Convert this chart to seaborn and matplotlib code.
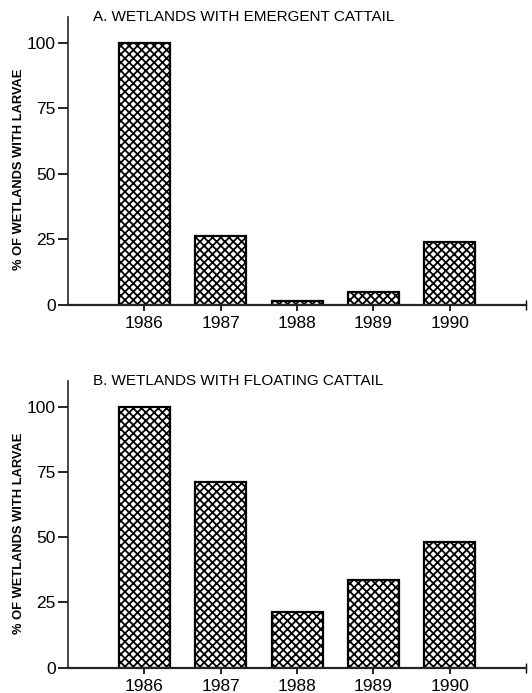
import pandas as pd
import seaborn as sns
import matplotlib.pyplot as plt

years = ["1986", "1987", "1988", "1989", "1990"]
emergent_pct = [100, 26.3, 1.5, 4.8, 24.2]
floating_pct = [100, 71, 21.2, 33.6, 48.3]
panel_titles = ["A. WETLANDS WITH EMERGENT CATTAIL", "B. WETLANDS WITH FLOATING CATTAIL"]
y_ticks = [0, 25, 50, 75, 100]

sns.set_style("ticks")
plt.rcParams["font.family"] = ["Liberation Sans", "DejaVu Sans"]
plt.rcParams["hatch.linewidth"] = 1.3
plt.rcParams["text.color"] = "black"
plt.rcParams["axes.labelcolor"] = "black"
plt.rcParams["xtick.color"] = "black"
plt.rcParams["ytick.color"] = "black"

fig = plt.figure(figsize=(5.32, 6.93), dpi=100)
ax_a = fig.add_axes([0.128, 0.5599, 0.861, 0.4159])
ax_b = fig.add_axes([0.128, 0.0365, 0.861, 0.4141])

for ax, vals, title in zip([ax_a, ax_b], [emergent_pct, floating_pct], panel_titles):
    df = pd.DataFrame({"year": years, "pct": vals})
    sns.barplot(data=df, x="year", y="pct", order=years, color="white",
                edgecolor="black", linewidth=1.6, width=0.67, ax=ax)
    for p in ax.patches:
        p.set_hatch("xxxx")
        p.set_facecolor("white")
    ax.set_xlim(-1, 5)
    ax.set_ylim(0, 110)
    ax.set_yticks(y_ticks)
    ax.set_yticklabels([str(t) for t in y_ticks], fontsize=12.5)
    ax.set_xticks(range(len(years)))
    ax.set_xticklabels(years, fontsize=12.5)
    ax.set_xticks([5], minor=True)
    ax.tick_params(axis="y", direction="out", length=7, width=1.2, pad=2)
    ax.tick_params(axis="x", which="major", direction="out", length=4, width=1.2, pad=4)
    ax.tick_params(axis="x", which="minor", direction="inout", length=7, width=1.0)
    for side in ["top", "right"]:
        ax.spines[side].set_visible(False)
    ax.spines["left"].set_linewidth(1.2)
    ax.spines["bottom"].set_linewidth(1.6)
    ax.set_xlabel("")
    ax.set_ylabel("% OF WETLANDS WITH LARVAE", fontsize=9.3, fontweight="bold",
                  family=["Liberation Sans Narrow", "Liberation Sans"])
    ax.yaxis.set_label_coords(-0.095, 0.47)
    ax.text(0.054, 1.0, title, transform=ax.transAxes, fontsize=11, va="center", ha="left")

fig.savefig("out.png", dpi=100)
